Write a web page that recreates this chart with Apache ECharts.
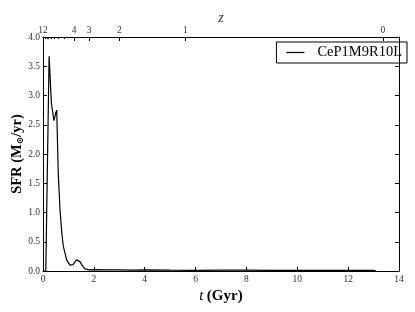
<!DOCTYPE html>
<html><head><meta charset="utf-8">
<script src="https://cdn.jsdelivr.net/npm/echarts@6/dist/echarts.min.js"></script>
<style>html,body{margin:0;padding:0;background:#fff}#c{width:415px;height:312px}</style>
</head><body><div id="c"></div>
<script>
// Data
const tGyr = [0.0, 0.11, 0.24, 0.33, 0.43, 0.50, 0.54, 0.60, 0.67, 0.74, 0.80, 0.93, 1.06, 1.18, 1.32, 1.45, 1.55, 1.65, 1.80, 2.0, 2.5, 3.0, 3.5, 4.0, 5.0, 6.0, 7.0, 8.0, 9.0, 10.0, 11.0, 12.0, 13.0, 13.1];
const sfr  = [0.0, 0.0, 3.67, 2.87, 2.57, 2.70, 2.75, 1.67, 1.04, 0.65, 0.42, 0.19, 0.10, 0.11, 0.19, 0.16, 0.09, 0.035, 0.02, 0.025, 0.02, 0.02, 0.015, 0.02, 0.015, 0.012, 0.015, 0.015, 0.012, 0.01, 0.01, 0.01, 0.01, 0.0];
const seriesName = 'CeP1M9R10L';
const zLabels = ['12', '4', '3', '2', '1', '0'];
const zPositions = [0.0, 1.22, 1.81, 3.0, 5.6, 13.37];
const zMinorPositions = [0.09, 0.15, 0.22, 0.32, 0.44, 0.61, 0.85];
const yTicks = ['0.0','0.5','1.0','1.5','2.0','2.5','3.0','3.5','4.0'];

const serif = "'Liberation Serif','DejaVu Serif',serif";
const chart = echarts.init(document.getElementById('c'), null, {renderer: 'canvas'});
const grid = {left: 43, right: 16, top: 37, bottom: 41, containLabel: false, outerBoundsMode: 'none'};
const axLine = {show: true, onZero: false, lineStyle: {color: '#000', width: 1}};
chart.setOption({
  animation: false,
  backgroundColor: '#fff',
  grid: grid,
  legend: {
    top: 42, right: 8,
    data: [seriesName],
    icon: 'rect',
    borderColor: '#000', borderWidth: 1, borderRadius: 0,
    padding: [3, 5, 3, 10],
    itemWidth: 18, itemHeight: 1.3, itemGap: 8,
    textStyle: {fontFamily: serif, fontSize: 14.5, color: '#000', padding: [0, 0, 0, 8]}
  },
  xAxis: [
    {
      type: 'value', min: 0, max: 14, interval: 2, position: 'bottom',
      name: '{i|t} {b|(Gyr)}', nameLocation: 'middle', nameGap: 15,
      nameTextStyle: {rich: {
        i: {fontFamily: serif, fontStyle: 'italic', fontSize: 15, color: '#000'},
        b: {fontFamily: serif, fontWeight: 'bold', fontSize: 15, color: '#000'}
      }, verticalAlign: 'top'},
      axisLine: axLine, splitLine: {show: false},
      axisTick: {inside: true, length: 4, lineStyle: {color: '#000'}},
      axisLabel: {fontFamily: serif, fontSize: 9.5, color: '#333', margin: 3}
    },
    {
      type: 'value', min: 0, max: 14, position: 'top',
      name: 'z', nameLocation: 'middle', nameGap: 12, nameMoveOverlap: false,
      nameTextStyle: {fontFamily: serif, fontStyle: 'italic', fontSize: 14, color: '#333'},
      axisLine: axLine, splitLine: {show: false},
      axisTick: {inside: true, length: 4, customValues: zPositions, lineStyle: {color: '#000'}},
      axisLabel: {fontFamily: serif, fontSize: 9.5, color: '#333', margin: 2, customValues: zPositions,
        formatter: function (v) {
          for (let i = 0; i < zPositions.length; i++) if (Math.abs(zPositions[i] - v) < 1e-6) return zLabels[i];
          return '';
        }}
    },
    {
      type: 'value', min: 0, max: 14, position: 'top',
      axisLine: {show: false, onZero: false}, splitLine: {show: false},
      axisTick: {inside: true, length: 2, customValues: zMinorPositions, lineStyle: {color: '#000'}},
      axisLabel: {show: false}
    }
  ],
  yAxis: [
    {
      type: 'value', min: 0, max: 4, interval: 0.5, position: 'left',
      name: '{b|SFR (M}{s|⊙}{b|/yr)}', nameLocation: 'middle', nameGap: 18, nameMoveOverlap: false,
      nameTextStyle: {rich: {
        b: {fontFamily: serif, fontWeight: 'bold', fontSize: 14.5, color: '#000'},
        s: {fontFamily: serif, fontWeight: 'bold', fontSize: 9, color: '#000', verticalAlign: 'bottom', padding: [7, 0, 0, 0]}
      }},
      axisLine: axLine, splitLine: {show: false},
      axisTick: {inside: true, length: 4, lineStyle: {color: '#000'}},
      axisLabel: {fontFamily: serif, fontSize: 9.5, color: '#333', margin: 3,
        formatter: function (v) { return yTicks[Math.round(v / 0.5)]; }}
    },
    {
      type: 'value', min: 0, max: 4, interval: 0.5, position: 'right',
      axisLine: axLine, splitLine: {show: false},
      axisTick: {inside: true, length: 4, lineStyle: {color: '#000'}},
      axisLabel: {show: false}
    }
  ],
  series: [{
    name: seriesName, type: 'line', xAxisIndex: 0, yAxisIndex: 0,
    data: tGyr.map((t, i) => [t, sfr[i]]),
    symbol: 'none', smooth: false,
    lineStyle: {color: '#000', width: 1.2},
    itemStyle: {color: '#000'}
  }]
});
</script></body></html>
